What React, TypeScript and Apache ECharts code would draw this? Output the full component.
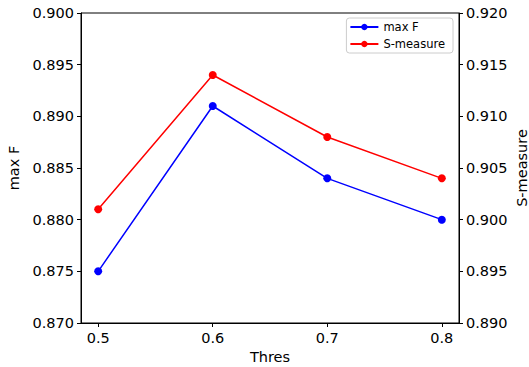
import React, { useEffect, useRef } from "react";
import * as echarts from "echarts";

const thresholds = [0.5, 0.6, 0.7, 0.8];
const maxF = [0.875, 0.891, 0.884, 0.88];
const sMeasure = [0.901, 0.914, 0.908, 0.904];
const xTicks = [0.5, 0.6, 0.7, 0.8];
const rightAxisTitle = "S-measure";

const FONT = "DejaVu Sans";
const FS = 14.5;

export default function App() {
  const ref = useRef<HTMLDivElement>(null);
  useEffect(() => {
    if (!ref.current) return;
    const chart = echarts.init(ref.current, null, { renderer: "svg" });
    const axisLine = { show: true, lineStyle: { color: "#000", width: 1 } };
    const axisTick = { show: true, inside: false, length: 4, lineStyle: { color: "#000" } };
    const labelStyle = { fontFamily: FONT, fontSize: FS, color: "#000", margin: 7 };
    const nameStyle = { fontFamily: FONT, fontSize: FS, color: "#000" };
    chart.setOption({
      animation: false,
      textStyle: { fontFamily: FONT },
      grid: {
        left: 81,
        right: 70,
        top: 13,
        bottom: 44,
        outerBoundsMode: "none",
        containLabel: false,
        show: true,
        borderColor: "#000",
        borderWidth: 1,
        backgroundColor: "transparent",
      },
      legend: {
        orient: "vertical",
        right: 76,
        top: 18,
        itemWidth: 28,
        itemHeight: 8,
        itemGap: 3,
        padding: [2, 8, 2, 3],
        borderColor: "#ccc",
        borderWidth: 1,
        borderRadius: 3,
        textStyle: { fontFamily: FONT, fontSize: 11.5, color: "#000", lineHeight: 14 },
        data: ["max F", "S-measure"],
      },
      graphic: [
        {
          type: "text",
          x: 522,
          y: 168,
          rotation: Math.PI / 2,
          style: {
            text: rightAxisTitle,
            fontFamily: FONT,
            fontSize: FS,
            fill: "#000",
            align: "center",
            verticalAlign: "middle",
          },
        },
      ],
      xAxis: {
        type: "value",
        min: 0.485,
        max: 0.815,
        name: "Thres",
        nameLocation: "middle",
        nameGap: 25,
        nameTextStyle: nameStyle,
        axisLine,
        axisTick: { ...axisTick, customValues: xTicks },
        axisLabel: {
          ...labelStyle,
          customValues: xTicks,
          formatter: (v: number) => v.toFixed(1),
        },
        splitLine: { show: false },
      },
      yAxis: [
        {
          type: "value",
          position: "left",
          min: 0.87,
          max: 0.9,
          interval: 0.005,
          name: "max F",
          nameLocation: "middle",
          nameGap: 58,
          nameRotate: 90,
          nameTextStyle: nameStyle,
          axisLine,
          axisTick,
          axisLabel: { ...labelStyle, formatter: (v: number) => v.toFixed(3) },
          splitLine: { show: false },
        },
        {
          type: "value",
          position: "right",
          min: 0.89,
          max: 0.92,
          interval: 0.005,
          axisLine,
          axisTick,
          axisLabel: { ...labelStyle, formatter: (v: number) => v.toFixed(3) },
          splitLine: { show: false },
        },
      ],
      series: [
        {
          name: "max F",
          type: "line",
          yAxisIndex: 0,
          data: thresholds.map((x, i) => [x, maxF[i]]),
          color: "#0000ff",
          lineStyle: { color: "#0000ff", width: 1.5 },
          itemStyle: { color: "#0000ff" },
          symbol: "circle",
          symbolSize: 8,
        },
        {
          name: "S-measure",
          type: "line",
          yAxisIndex: 1,
          data: thresholds.map((x, i) => [x, sMeasure[i]]),
          color: "#ff0000",
          lineStyle: { color: "#ff0000", width: 1.5 },
          itemStyle: { color: "#ff0000" },
          symbol: "circle",
          symbolSize: 8,
        },
      ],
    });
    return () => chart.dispose();
  }, []);
  return (
    <div
      ref={ref}
      style={{ position: "absolute", left: 0, top: 0, width: 529, height: 367, background: "#fff" }}
    />
  );
}
